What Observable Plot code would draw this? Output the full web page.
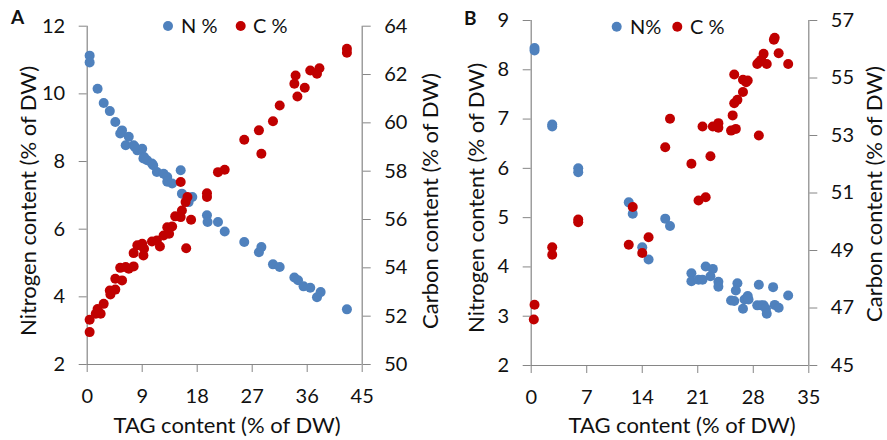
<!DOCTYPE html>
<html><head><meta charset="utf-8">
<script src="https://cdn.jsdelivr.net/npm/d3@7"></script>
<script src="https://cdn.jsdelivr.net/npm/@observablehq/plot@0.6"></script>
<style>
html,body{margin:0;padding:0;background:#fff;}
#root{position:relative;width:887px;height:440px;overflow:hidden;font-family:Lato,sans-serif;}
#root > svg{position:absolute;top:0;}
</style></head><body><div id="root"></div>
<script>
// ---------- Panel A ----------
const aN_tag = [0.4,0.4,1.7,2.7,3.7,4.6,5.7,5.4,6.8,6.3,7.6,8.2,9.0,9.3,9.8,10.6,11.4,12.5,13.1,13.1,13.9,15.3,15.5,16.4,17.2,16.6,19.6,19.7,21.4,22.5,25.7,28.1,28.5,30.4,31.5,33.9,34.5,35.4,36.5,37.6,38.2,42.5,10.8,7.8,9.2];
const aN_val = [11.13,10.93,10.15,9.73,9.49,9.17,8.92,8.83,8.73,8.48,8.48,8.33,8.38,8.13,8.04,7.94,7.69,7.64,7.54,7.40,7.35,7.74,7.05,6.85,6.95,6.80,6.41,6.21,6.21,5.93,5.62,5.32,5.47,4.96,4.88,4.57,4.49,4.31,4.27,3.99,4.14,3.63,7.89,8.43,8.09];
const aC_tag = [42.5,42.5,36.5,37.6,38.0,34.1,33.9,35.6,34.4,31.5,30.4,28.1,28.5,25.7,22.5,21.4,19.6,19.6,15.3,16.4,16.1,15.5,14.4,15.3,17.0,16.2,13.1,13.4,12.5,13.9,11.4,10.6,11.9,9.0,9.3,8.2,7.6,9.2,6.8,7.6,6.3,5.4,5.7,4.6,3.7,3.8,4.6,2.7,1.7,1.4,0.4,0.4,2.2];
const aC_val = [63.07,62.9,62.17,62.03,62.26,61.96,61.62,61.45,61.09,60.72,60.07,59.69,58.72,59.3,58.06,57.96,57.09,56.93,57.55,56.93,56.72,56.37,56.13,56.1,55.99,54.81,55.68,55.41,55.34,55.71,55.13,55.09,54.88,55.0,54.79,54.93,54.61,54.51,53.96,54.06,54.03,54.0,53.48,53.55,53.06,52.9,53.1,52.51,52.3,52.1,51.85,51.34,52.1];
const aX_ticks = [0,9,18,27,36,45];
const aN_ticks = [2,4,6,8,10,12];
const aC_ticks = [50,52,54,56,58,60,62,64];

// ---------- Panel B ----------
const bN_tag = [0.42,0.42,2.65,2.65,5.93,5.93,12.3,12.8,16.9,17.5,14.0,14.8,20.2,20.2,21.1,21.6,22.0,22.9,22.6,23.6,23.6,26.0,25.8,25.2,25.6,26.7,26.9,27.3,27.4,28.7,28.5,29.0,29.3,29.6,29.7,30.5,30.7,31.2,32.4];
const bN_val = [8.44,8.39,6.89,6.85,6.0,5.92,5.31,5.08,4.98,4.83,4.40,4.15,3.87,3.71,3.74,3.74,4.01,3.96,3.81,3.70,3.60,3.67,3.52,3.32,3.31,3.15,3.34,3.41,3.34,3.64,3.22,3.22,3.22,3.15,3.05,3.59,3.23,3.17,3.42];
const bC_tag = [30.7,30.6,31.2,32.4,29.3,28.7,28.5,29.0,29.7,25.6,26.7,27.3,27.1,26.7,26.0,25.6,25.4,25.8,25.2,28.7,23.6,22.9,23.6,21.6,17.5,16.9,20.2,22.6,21.1,22.0,12.8,5.93,5.93,2.65,2.65,0.42,0.33,12.3,14.0,14.8];
const bC_val = [56.40,56.33,55.86,55.49,55.84,55.55,55.49,55.63,55.49,55.12,54.94,54.91,54.85,54.51,54.24,54.12,53.70,53.23,53.17,53.0,53.43,53.31,53.27,53.31,53.58,52.59,52.02,52.28,50.74,50.85,50.51,50.08,49.98,49.11,48.85,47.11,46.6,49.2,48.91,49.46];
const bX_ticks = [0,7,14,21,28,35];
const bN_ticks = [2,3,4,5,6,7,8,9];
const bC_ticks = [45,47,49,51,53,55,57];

const BLUE = "#4F81BD", RED = "#C00000", AXIS = "#868686", TEXT = "#111";
const root = document.getElementById("root");

function layer({left, width, mL, mR, mT, mB, xDom, xTicks, yDom, yTicks, side, xs, ys, color, showX}) {
  const data = xs.map((x, i) => ({x, y: ys[i]}));
  const marks = [
    Plot.ruleX([side === "left" ? xDom[0] : xDom[1]], {stroke: AXIS, strokeWidth: 1.2}),
    Plot.axisY({anchor: side, ticks: yTicks, tickSize: 8, tickPadding: 14, label: null, stroke: AXIS, fill: TEXT, tickFormat: d => String(d)}),
    Plot.dot(data, {x: "x", y: "y", r: 5, fill: color})
  ];
  if (showX) {
    marks.unshift(Plot.ruleY([yDom[0]], {stroke: AXIS, strokeWidth: 1.2}));
    marks.push(Plot.axisX({ticks: xTicks, tickSize: 8, tickPadding: 16, label: null, stroke: AXIS, fill: TEXT, tickFormat: d => String(d)}));
  }
  const svg = Plot.plot({
    width, height: 440,
    marginLeft: mL, marginRight: mR, marginTop: mT, marginBottom: mB,
    x: {domain: xDom, axis: null},
    y: {domain: yDom, axis: null},
    style: {background: "transparent", fontFamily: "Lato, sans-serif", fontSize: "20px", color: TEXT, overflow: "visible"},
    marks
  });
  svg.style.left = left + "px";
  root.appendChild(svg);
}

// Panel A
layer({left: 0, width: 440, mL: 86.7, mR: 78.3, mT: 25.7, mB: 76, xDom: [0,45], xTicks: aX_ticks, yDom: [2,12], yTicks: aN_ticks, side: "left", xs: aN_tag, ys: aN_val, color: BLUE, showX: true});
layer({left: 0, width: 440, mL: 86.7, mR: 78.3, mT: 25.7, mB: 76, xDom: [0,45], xTicks: aX_ticks, yDom: [50,64], yTicks: aC_ticks, side: "right", xs: aC_tag, ys: aC_val, color: RED, showX: false});
// Panel B
layer({left: 440, width: 447, mL: 90.7, mR: 78.7, mT: 20, mB: 75, xDom: [0,35], xTicks: bX_ticks, yDom: [2,9], yTicks: bN_ticks, side: "left", xs: bN_tag, ys: bN_val, color: BLUE, showX: true});
layer({left: 440, width: 447, mL: 90.7, mR: 78.7, mT: 20, mB: 75, xDom: [0,35], xTicks: bX_ticks, yDom: [45,57], yTicks: bC_ticks, side: "right", xs: bC_tag, ys: bC_val, color: RED, showX: false});

// Overlay: titles, legends, panel letters
const ov = d3.create("svg").attr("width", 887).attr("height", 440)
  .style("left", "0px").style("font-family", "Lato, sans-serif").style("pointer-events", "none");
function vtitle(x, y, t) {
  ov.append("text").attr("transform", `translate(${x},${y}) rotate(-90)`).attr("text-anchor", "middle")
    .attr("dominant-baseline", "central").attr("font-size", 22).attr("fill", TEXT).text(t);
}
vtitle(27, 201, "Nitrogen content (% of DW)");
vtitle(429, 201, "Carbon content (% of DW)");
vtitle(475, 198, "Nitrogen content (% of DW)");
vtitle(873, 194, "Carbon content (% of DW)");
ov.append("text").attr("x", 227).attr("y", 433).attr("text-anchor", "middle").attr("font-size", 22).attr("fill", TEXT).text("TAG content (% of DW)");
ov.append("text").attr("x", 682).attr("y", 433).attr("text-anchor", "middle").attr("font-size", 22).attr("fill", TEXT).text("TAG content (% of DW)");
ov.append("text").attr("x", 11).attr("y", 24).attr("font-size", 19).attr("font-weight", "bold").attr("fill", TEXT).text("A");
ov.append("text").attr("x", 464).attr("y", 25).attr("font-size", 19).attr("font-weight", "bold").attr("fill", TEXT).text("B");
function legendItem(cx, cy, color, tx, t) {
  ov.append("circle").attr("cx", cx).attr("cy", cy).attr("r", 5).attr("fill", color);
  ov.append("text").attr("x", tx).attr("y", cy + 7).attr("font-size", 20).attr("fill", TEXT).text(t);
}
legendItem(168, 26, BLUE, 181, "N %");
legendItem(240.7, 26, RED, 253, "C %");
legendItem(616.7, 26.7, BLUE, 630, "N%");
legendItem(677.3, 26.7, RED, 690, "C %");
root.appendChild(ov.node());
</script></body></html>
